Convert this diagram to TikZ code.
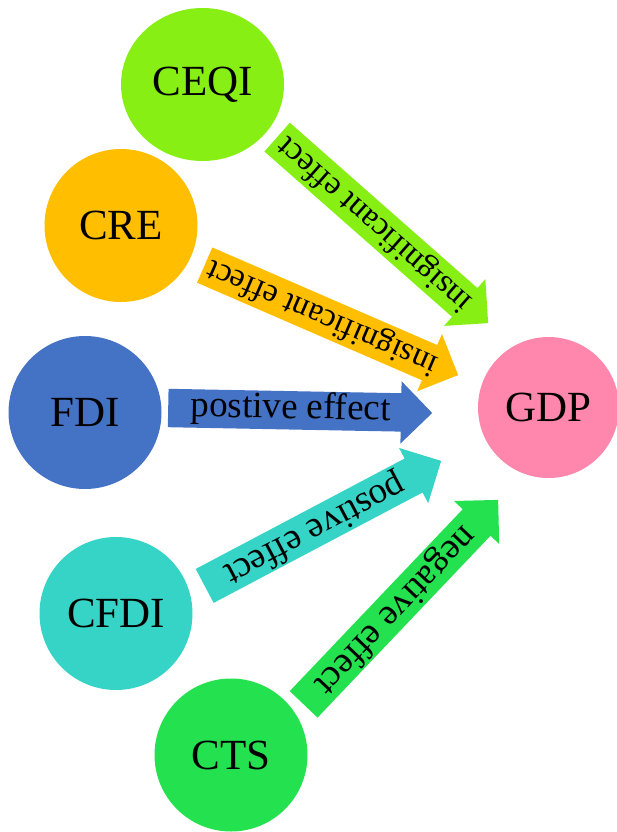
\documentclass[tikz,border=0pt]{standalone}
\usepackage{fontspec}
\setmainfont{Liberation Serif}
\usetikzlibrary{shapes.geometric,shapes.arrows,calc}

\definecolor{ceqicol}{HTML}{87EF14}
\definecolor{crecol}{HTML}{FFBF00}
\definecolor{fdicol}{HTML}{4472C4}
\definecolor{cfdicol}{HTML}{36D4C6}
\definecolor{ctscol}{HTML}{24E24F}
\definecolor{gdpcol}{HTML}{FF86AD}

\tikzset{
  factor/.style={ellipse, fill=#1, inner sep=0pt, minimum width=153pt, minimum height=153pt,
    font=\fontsize{43}{43}\selectfont},
  effect/.style={single arrow, fill=#1, inner sep=0pt, text height=27pt, text depth=11pt,
    single arrow head extend=12pt, single arrow tip angle=90, anchor=tail},
  bigtext/.style={font=\fontsize{37}{37}\selectfont},
  smalltext/.style={font=\fontsize{33}{33}\selectfont}
}

% block arrow from tail to tip: tail, tip, colour, flip angle, text style, text
\newcommand{\effectarrow}[6]{%
  \path let \p1=($(#2)-(#1)$), \n1={atan2(\y1,\x1)}, \n2={veclen(\x1,\y1)} in
    node[effect=#3, #5, minimum height=\n2, rotate=\n1+#4, shape border rotate=#4] at (#1) {#6};
}

\begin{document}
\begin{tikzpicture}[x=1pt,y=-1pt]
    \useasboundingbox (0,0) rectangle (616,832);
    % factors
    \node[factor=ceqicol, minimum width=163pt] (ceqi) at (202.5,84.5) {CEQI};
    \node[factor=crecol] (cre) at (121,225.5) {CRE};
    \node[factor=fdicol] (fdi) at (85,412.5) {FDI};
    \node[factor=cfdicol] (cfdi) at (116,613.5) {CFDI};
    \node[factor=ctscol] (cts) at (231,755) {CTS};
    \node[factor=gdpcol, minimum width=141pt, minimum height=141pt] (gdp) at (548.5,407.5) {GDP};
    % arrow ends
    \coordinate (ceqiT) at (277,137);
    \coordinate (ceqiH) at (488,323);
    \coordinate (creT) at (204.5,265);
    \coordinate (creH) at (458,375);
    \coordinate (fdiT) at (168,408);
    \coordinate (fdiH) at (432,413);
    \coordinate (cfdiT) at (204.5,586);
    \coordinate (cfdiH) at (441,461);
    \coordinate (ctsT) at (303.5,704.5);
    \coordinate (ctsH) at (498,500);
    % effects on GDP
    \effectarrow{ceqiT}{ceqiH}{ceqicol}{180}{smalltext}{insignificant effect}
    \effectarrow{creT}{creH}{crecol}{180}{smalltext}{insignificant effect}
    \effectarrow{fdiT}{fdiH}{fdicol}{0}{bigtext}{postive effect}
    \effectarrow{cfdiT}{cfdiH}{cfdicol}{180}{bigtext}{postive effect}
    \effectarrow{ctsT}{ctsH}{ctscol}{180}{bigtext}{negative effect}
\end{tikzpicture}
\end{document}
